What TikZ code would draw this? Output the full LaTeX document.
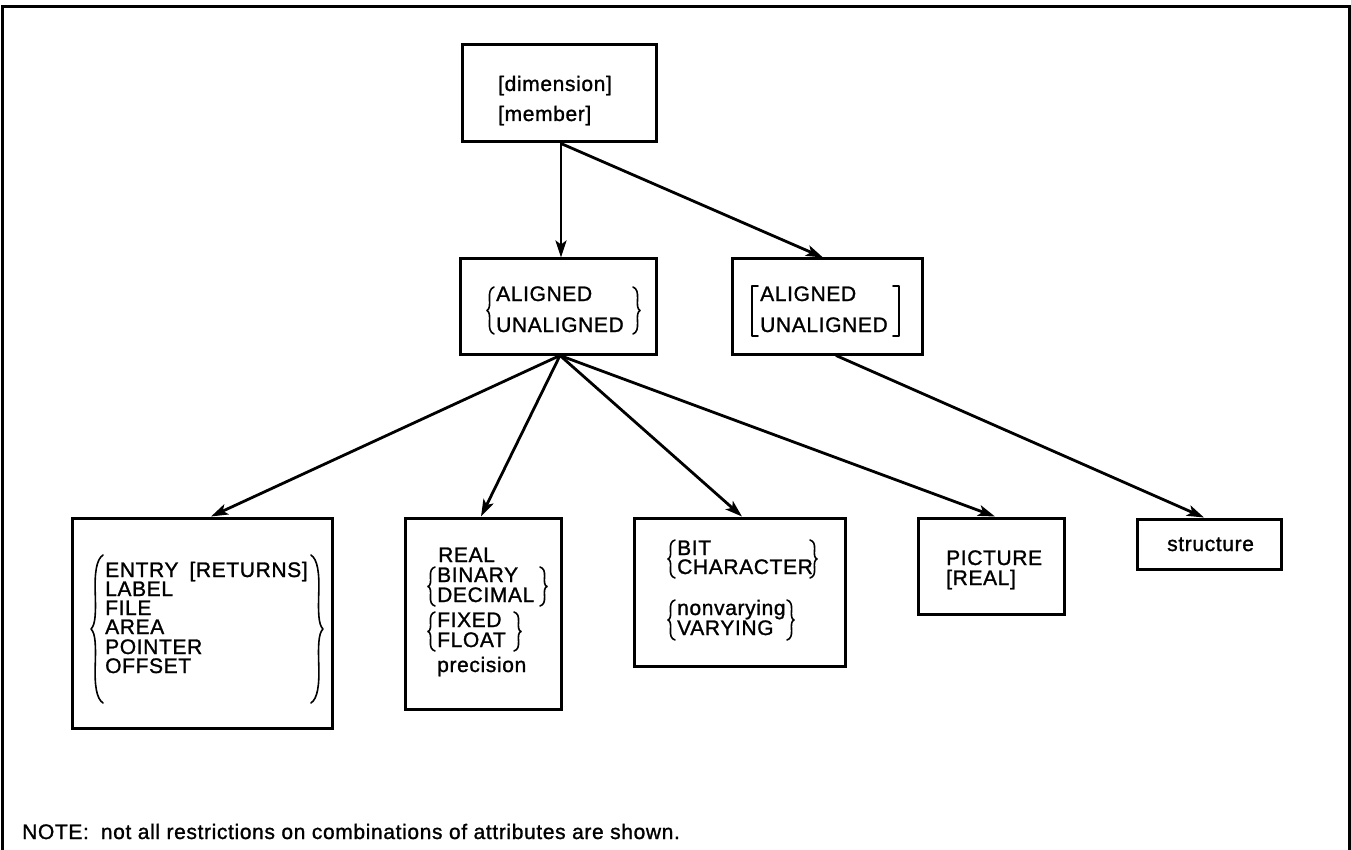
\documentclass[tikz,border=0pt]{standalone}
\usepackage{fontspec}
\newfontfamily\labfont{Liberation Sans}[LetterSpace=3, FakeBold=1.2]
\usetikzlibrary{arrows.meta}

\tikzset{
  box/.style={draw, line width=3pt, inner sep=0pt},
  lbl/.style={anchor=base west, inner sep=0pt, font={\labfont\fontsize{21pt}{21pt}\selectfont}},
  arr/.style={line width=2.8pt, -{Stealth[length=17pt,width=11pt,inset=4pt]}},
  brc/.style={line width=1.6pt, line cap=round, line join=round},
  frame/.style={line width=3pt}
}

% curly brace: #1 hook x, #2 side (-1 opens right / 1 opens left), #3 top y, #4 bottom y, #5 depth
\newcommand\mybrace[5]{%
  \draw[brc] (#1,#3)
    .. controls ({#1+(#2)*0.55*#5},{#3+0.03*(#4-#3)}) and ({#1+(#2)*0.7*#5},{#3+0.12*(#4-#3)}) .. ({#1+(#2)*0.65*#5},{#3+0.25*(#4-#3)})
    .. controls ({#1+(#2)*0.6*#5},{#3+0.38*(#4-#3)}) and ({#1+(#2)*0.6*#5},{#3+0.47*(#4-#3)}) .. ({#1+(#2)*#5},{0.5*(#3+#4)})
    .. controls ({#1+(#2)*0.6*#5},{#3+0.53*(#4-#3)}) and ({#1+(#2)*0.6*#5},{#3+0.62*(#4-#3)}) .. ({#1+(#2)*0.65*#5},{#3+0.75*(#4-#3)})
    .. controls ({#1+(#2)*0.7*#5},{#3+0.88*(#4-#3)}) and ({#1+(#2)*0.55*#5},{#3+0.97*(#4-#3)}) .. (#1,#4);}

% square bracket: #1 stem x, #2 tick direction, #3 top y, #4 bottom y
\newcommand\mybracket[4]{%
  \draw[brc] ({#1+(#2)*6},#3) -- (#1,#3) -- (#1,#4) -- ({#1+(#2)*6},#4);}

\begin{document}
\begin{tikzpicture}[x=1pt,y=-1pt]
\useasboundingbox (0,0) rectangle (1351,850);
\fill[white] (0,0) rectangle (1351,850);

% page frame
\draw[frame] (2,850) -- (2,6.5) -- (1349,6.5) -- (1349,850);

% boxes
\node[box, minimum width=194pt, minimum height=97pt]  (top) at (559,93.5) {};
\node[box, minimum width=196pt, minimum height=95pt]  (A)   at (558,306.5) {};
\node[box, minimum width=190pt, minimum height=95pt]  (B)   at (827,306.5) {};
\node[box, minimum width=260pt, minimum height=210pt] (b1)  at (202,623) {};
\node[box, minimum width=156pt, minimum height=191pt] (b2)  at (483,613.5) {};
\node[box, minimum width=211pt, minimum height=148pt] (b3)  at (739.5,592) {};
\node[box, minimum width=146pt, minimum height=96pt]  (b4)  at (991,566) {};
\node[box, minimum width=144pt, minimum height=50pt]  (st)  at (1209,544) {};

% top box
\node[lbl] (dim) at (498,91)  {[dimension]};
\node[lbl] (mem) at (498,121) {[member]};

% aligned / unaligned choice
\node[lbl] (al1) at (496,301) {ALIGNED};
\node[lbl] (ua1) at (496,332) {UNALIGNED};
\mybrace{494}{-1}{287}{334}{7}
\mybrace{633}{1}{287}{334}{7}

% optional aligned / unaligned
\node[lbl] (al2) at (760,301) {ALIGNED};
\node[lbl] (ua2) at (760,332) {UNALIGNED};
\mybracket{752}{1}{286}{336}
\mybracket{899}{-1}{286}{336}

% program control attributes
\node[lbl] (entry) at (105,577) {ENTRY\hspace{11pt}[RETURNS]};
\node[lbl] (label) at (105,596) {LABEL};
\node[lbl] (file)  at (105,615) {FILE};
\node[lbl] (area)  at (105,634) {AREA};
\node[lbl] (ptr)   at (105,654) {POINTER};
\node[lbl] (off)   at (105,673) {OFFSET};
\mybrace{103}{-1}{555}{703}{12}
\mybrace{311}{1}{555}{703}{12}

% arithmetic attributes
\node[lbl] (real)  at (438,562) {REAL};
\node[lbl] (bin)   at (437,582) {BINARY};
\node[lbl] (dec)   at (437,602) {DECIMAL};
\node[lbl] (fix)   at (437,627) {FIXED};
\node[lbl] (flo)   at (437,647) {FLOAT};
\node[lbl] (prec)  at (437,672) {precision};
\mybrace{435}{-1}{567}{606}{7}
\mybrace{540}{1}{567}{606}{7}
\mybrace{435}{-1}{612}{651}{7}
\mybrace{514}{1}{612}{651}{7}

% string attributes
\node[lbl] (bit)   at (677,555) {BIT};
\node[lbl] (chr)   at (677,574) {CHARACTER};
\node[lbl] (nvar)  at (677,615) {nonvarying};
\node[lbl] (var)   at (677,635) {VARYING};
\mybrace{675}{-1}{540}{578}{7}
\mybrace{810}{1}{540}{578}{7}
\mybrace{675}{-1}{600}{640}{7}
\mybrace{787}{1}{600}{640}{7}

% picture attributes
\node[lbl] (pic)  at (946,565) {PICTURE};
\node[lbl] (preal) at (946,585) {[REAL]};

% structure
\node[lbl] (struc) at (1167,551) {structure};

% note
\node[lbl] (note) at (22,839) {NOTE:\hspace{12pt}not all restrictions on combinations of attributes are shown.};

% connectors
\draw[arr] ([xshift=2pt]top.south) -- ([xshift=2pt]top.south |- A.north);
\draw[arr] ([xshift=2pt]top.south) -- ([xshift=-4pt]B.north);
\draw[arr] ([xshift=2pt]A.south) -- ([xshift=9pt]b1.north);
\draw[arr] ([xshift=2pt]A.south) -- ([xshift=-2pt]b2.north);
\draw[arr] ([xshift=2pt]A.south) -- ([xshift=2.5pt]b3.north);
\draw[arr] ([xshift=2pt]A.south) -- ([xshift=4pt]b4.north);
\draw[arr] ([xshift=9pt]B.south) -- ([xshift=-5pt]st.north);
\end{tikzpicture}
\end{document}
